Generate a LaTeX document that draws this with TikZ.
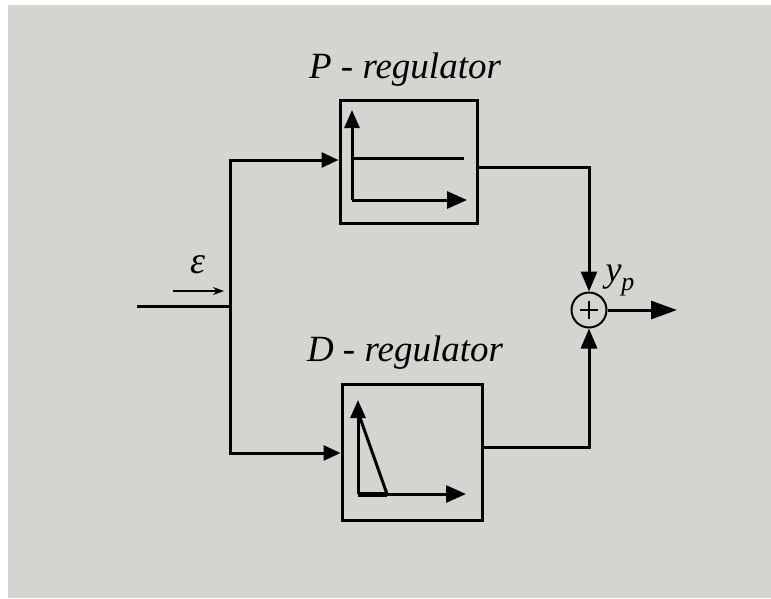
\documentclass[tikz,border=0pt]{standalone}
\usepackage{fontspec}
\setmainfont{Liberation Serif}
\usetikzlibrary{arrows.meta}
\definecolor{paper}{RGB}{214,212,208}
\begin{document}
\begin{tikzpicture}[x=1pt,y=-1pt,
  wire/.style={line width=3pt},
  arr/.style={wire,-{Triangle[length=17pt,width=15pt]}},
  block/.style={draw,line width=3pt,rectangle,inner sep=0pt},
  lbl/.style={font=\itshape\fontsize{37}{40}\selectfont},
  sumnode/.style={draw,circle,line width=2pt,minimum size=35pt,inner sep=0pt}]
\useasboundingbox (0,0) rectangle (771,598);
\fill[white] (0,0) rectangle (771,598);
\fill[paper] (8,5) rectangle (771,598);
% blocks
\node[block,minimum width=137pt,minimum height=123pt] (P) at (408.5,162) {};
\node[block,minimum width=140pt,minimum height=136pt] (D) at (412,452) {};
\node[lbl] (Pl) at (405,70) {P - regulator};
\node[lbl] (Dl) at (405,353) {D - regulator};
\node[sumnode] (S) at (589,310) {};
\draw[line width=1.5pt] ([xshift=-9pt]S.center) -- ([xshift=9pt]S.center);
\draw[line width=1.5pt] ([yshift=-9pt]S.center) -- ([yshift=9pt]S.center);
% coordinates
\coordinate (in) at (137,306);
\coordinate (br) at (230,306);
\coordinate (bt) at (230,160);
\coordinate (bb) at (230,453);
\coordinate (out) at (677,310);
% input wiring
\draw[wire] (in) -- (br);
\draw[wire,line cap=rect] (bt) -- (bb);
\draw[arr] (bt) -- (bt -| P.west);
\draw[arr] (bb) -- (bb -| D.west);
% outputs
\coordinate (po) at (477,167);
\coordinate (do) at (482,447);
\draw[wire,-{Triangle[length=20pt,width=16pt]}] (po) -| (S.north);
\draw[wire,-{Triangle[length=20pt,width=16pt]}] (do) -| (S.south);
\draw[wire,-{Triangle[length=26pt,width=18pt]}] (S.east) -- (out);
% epsilon
\node[font=\itshape\fontsize{38}{40}\selectfont] (eps) at (198,265) {ε};
\coordinate (ea) at (173,291);
\coordinate (eb) at (224,291);
\draw[line width=1.2pt,-{Stealth[length=11pt,width=8pt]}] (ea) -- (eb);
\node[font=\itshape\fontsize{36}{40}\selectfont] (yp) at (620,280) {y\raisebox{-0.25em}{\fontsize{26}{28}\selectfont p}};
% P inner plot
\coordinate (po0) at (352,200);
\draw[line width=3pt,-{Triangle[length=18pt,width=15pt]}] (po0) -- (352,110);
\draw[line width=3pt,-{Triangle[length=20pt,width=17pt]}] (po0) -- (467,200);
\draw[line width=3pt] (352,158) -- (464,158);
% D inner plot
\coordinate (do0) at (358,494);
\draw[line width=3pt,-{Triangle[length=18pt,width=15pt]}] (do0) -- (358,400);
\draw[line width=3pt,-{Triangle[length=20pt,width=17pt]}] (do0) -- (466,494);
\draw[line width=3pt] (358,412) -- (387,494);
\draw[line width=5pt] (358,494) -- (387,494);
\end{tikzpicture}
\end{document}
